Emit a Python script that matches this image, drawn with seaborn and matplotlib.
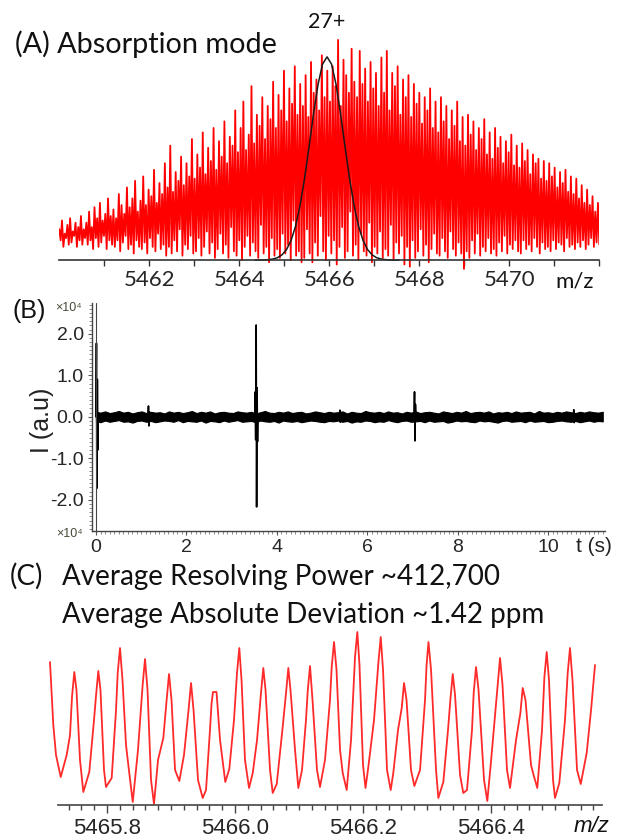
import matplotlib
matplotlib.use('Agg')
import matplotlib.pyplot as plt
import numpy as np
import seaborn as sns

# ---- (A) absorption-mode spectrum, 27+ charge state (% of tallest line) ----
spec_tops = [
    14, 18, 12, 16, 19, 13, 17, 15, 20, 14,
    17, 22, 15, 24, 19, 26, 18, 21, 28, 20,
    23, 19, 30, 25, 21, 33, 24, 28, 36, 22,
    27, 38, 25, 32, 29, 41, 26, 35, 30, 44,
    33, 52, 31, 40, 36, 47, 34, 44, 38, 55,
    37, 48, 42, 58, 39, 51, 45, 60, 41, 54,
    47, 63, 44, 56, 52, 68, 49, 60, 72, 50,
    57, 79, 53, 66, 61, 74, 55, 70, 64, 81,
    60, 75, 68, 86, 63, 78, 71, 88, 66, 80,
    70, 84, 65, 90, 76, 82, 68, 93, 74, 86,
    72, 88, 79, 100, 70, 91, 84, 76, 96, 81,
    74, 95, 80, 87, 72, 90, 78, 85, 70, 92,
    76, 95, 68, 85, 79, 88, 66, 82, 74, 84,
    65, 80, 71, 76, 62, 74, 68, 78, 60, 72,
    58, 74, 63, 70, 55, 68, 61, 72, 54, 65,
    52, 66, 57, 63, 50, 60, 55, 64, 48, 58,
    46, 60, 51, 56, 44, 54, 49, 57, 43, 52,
    42, 53, 45, 50, 39, 48, 44, 46, 37, 45,
    36, 44, 38, 42, 33, 40, 35, 41, 31, 38,
    30, 37, 28, 34, 26, 32, 25, 29, 22, 26,
]
spec_bottoms = [
    9, 6, 10, 7, 8, 11, 6, 9, 7, 10,
    7, 9, 5, 10, 6, 8, 11, 5, 9, 7,
    6, 9, 4, 8, 11, 5, 7, 3, 9, 6,
    5, 8, 3, 10, 6, 4, 12, 5, 7, 2,
    6, 3, 9, 4, 14, 2, 7, 5, 11, 3,
    4, 10, 2, 6, 13, 3, 8, 1, 5, 12,
    3, 7, 1, 15, 4, 2, 9, 0, 6, 11,
    2, 8, 4, 1, 16, 3, 6, -1, 10, 2,
    5, 1, 12, 3, 7, 0, 18, 2, 4, -1,
    1, 14, 3, -1, 8, 2, 20, 4, 0, 11,
    3, 9, -2, 6, 15, 1, 4, 22, 2, 7,
    0, 12, 4, 2, 17, -1, 6, 3, 13, 1,
    5, 2, 16, 0, 8, 3, 11, -2, 6, -3,
    9, 1, 4, 14, 2, 7, -1, 5, 12, 3,
    2, 10, 4, 1, 13, 5, 2, 8, 3, -4,
    4, 1, 9, 3, 12, 2, 6, 4, 10, 3,
    5, 2, 8, 4, 11, 3, 7, 5, 9, 4,
    3, 9, 5, 7, 4, 10, 6, 3, 8, 5,
    6, 4, 9, 5, 8, 7, 4, 10, 6, 7,
    5, 8, 6, 9, 5, 7, 10, 6, 8, 7,
]
fit_mz = [
    5464.35, 5464.45, 5464.55, 5464.65, 5464.75, 5464.85, 5464.95, 5465.05,
    5465.15, 5465.25, 5465.35, 5465.45, 5465.55, 5465.65, 5465.75, 5465.85,
    5465.95, 5466.05, 5466.15, 5466.25, 5466.35, 5466.45, 5466.55, 5466.65,
    5466.75, 5466.85, 5466.95, 5467.05, 5467.15, 5467.25, 5467.35, 5467.45,
    5467.55,
]
fit_int = [
    0.0, 0.0, 0.1, 0.2, 0.5, 1.1, 2.4, 4.8, 8.9, 15.4, 24.8, 37.0, 51.5,
    66.4, 79.8, 89.0, 92.3, 89.0, 79.8, 66.4, 51.5, 37.0, 24.8, 15.4, 8.9,
    4.8, 2.4, 1.1, 0.5, 0.2, 0.1, 0.0, 0.0,
]
a_ticks = [5462, 5464, 5466, 5468, 5470]

# ---- (B) transient, x10^4 a.u. ----
noise_hi = [
    0.12, 0.10, 0.13, 0.09, 0.11, 0.14, 0.10, 0.12, 0.08, 0.11,
    0.13, 0.09, 0.12, 0.10, 0.11, 0.08, 0.13, 0.10, 0.12, 0.09,
    0.11, 0.14, 0.09, 0.12, 0.10, 0.13, 0.08, 0.11, 0.12, 0.10,
    0.09, 0.13, 0.11, 0.10, 0.12, 0.08, 0.11, 0.14, 0.10, 0.09,
    0.12, 0.10, 0.13, 0.09, 0.11, 0.12, 0.08, 0.10, 0.13, 0.11,
    0.09, 0.12, 0.10, 0.11, 0.13, 0.08, 0.12, 0.10, 0.09, 0.14,
    0.11, 0.10, 0.12, 0.09, 0.13, 0.10, 0.11, 0.08, 0.12, 0.10,
    0.13, 0.09, 0.11, 0.12, 0.10, 0.08, 0.13, 0.11, 0.09, 0.12,
    0.10, 0.14, 0.09, 0.11, 0.12, 0.10, 0.13, 0.08, 0.11, 0.10,
    0.12, 0.09, 0.13, 0.10, 0.11, 0.12, 0.08, 0.14, 0.10, 0.11,
    0.09, 0.12, 0.10, 0.13, 0.11, 0.09, 0.12, 0.10, 0.13, 0.11,
    0.10, 0.12,
]
noise_lo = [
    -0.11, -0.13, -0.09, -0.12, -0.10, -0.08, -0.12, -0.11, -0.14, -0.10,
    -0.09, -0.12, -0.10, -0.13, -0.11, -0.09, -0.10, -0.12, -0.08, -0.13,
    -0.10, -0.11, -0.12, -0.09, -0.14, -0.10, -0.11, -0.13, -0.09, -0.12,
    -0.10, -0.08, -0.12, -0.11, -0.10, -0.13, -0.09, -0.11, -0.12, -0.10,
    -0.14, -0.09, -0.11, -0.12, -0.10, -0.13, -0.11, -0.09, -0.10, -0.12,
    -0.13, -0.10, -0.11, -0.09, -0.12, -0.10, -0.14, -0.11, -0.12, -0.09,
    -0.10, -0.13, -0.11, -0.12, -0.08, -0.11, -0.13, -0.10, -0.09, -0.12,
    -0.11, -0.10, -0.13, -0.09, -0.12, -0.11, -0.10, -0.14, -0.12, -0.09,
    -0.11, -0.10, -0.12, -0.13, -0.09, -0.11, -0.10, -0.12, -0.14, -0.10,
    -0.09, -0.12, -0.11, -0.10, -0.13, -0.09, -0.12, -0.11, -0.10, -0.13,
    -0.12, -0.10, -0.09, -0.11, -0.12, -0.10, -0.13, -0.11, -0.09, -0.12,
    -0.10, -0.11,
]
spike_t = [
    [0.00, 0.01, 0.02, 0.03, 0.04, 0.05],
    [1.15, 1.16, 1.17, 1.18, 1.19],
    [3.51, 3.52, 3.53, 3.54, 3.55, 3.56, 3.57, 3.58],
    [5.38, 5.39, 5.40, 5.41],
    [7.03, 7.04, 7.05, 7.06, 7.07],
    [10.55, 10.56, 10.57, 10.58],
]
spike_v = [
    [0.0, 1.77, -1.72, 0.9, -0.8, 0.0],
    [0.0, 0.26, -0.22, 0.12, 0.0],
    [0.0, 0.6, -0.55, 2.21, -2.17, 0.7, -0.6, 0.0],
    [0.0, 0.16, -0.13, 0.0],
    [0.0, 0.60, -0.58, 0.3, 0.0],
    [0.0, 0.17, -0.14, 0.0],
]
b_xticks = [0, 2, 4, 6, 8, 10]
b_yticks = [2.0, 1.0, 0.0, -1.0, -2.0]

# ---- (C) zoom on 27+ isotopic lines ----
mz_c = [
    5465.7109, 5465.7161, 5465.7203, 5465.7277, 5465.7370, 5465.7422, 5465.7453,
    5465.7489, 5465.7523, 5465.7578, 5465.7630, 5465.7723, 5465.7797, 5465.7828,
    5465.7864, 5465.7898, 5465.7953, 5465.7984, 5465.8073, 5465.8141, 5465.8167,
    5465.8203, 5465.8242, 5465.8297, 5465.8333, 5465.8402, 5465.8484, 5465.8558,
    5465.8594, 5465.8633, 5465.8688, 5465.8734, 5465.8797, 5465.8880, 5465.8933,
    5465.8969, 5465.9008, 5465.9063, 5465.9130, 5465.9203, 5465.9277, 5465.9313,
    5465.9352, 5465.9422, 5465.9495, 5465.9547, 5465.9609, 5465.9634, 5465.9656,
    5465.9711, 5465.9766, 5465.9848, 5465.9911, 5465.9984, 5466.0031, 5466.0067,
    5466.0102, 5466.0156, 5466.0219, 5466.0277, 5466.0344, 5466.0406, 5466.0442,
    5466.0477, 5466.0547, 5466.0589, 5466.0652, 5466.0745, 5466.0797, 5466.0833,
    5466.0867, 5466.0938, 5466.0989, 5466.1047, 5466.1109, 5466.1136, 5466.1172,
    5466.1211, 5466.1281, 5466.1328, 5466.1406, 5466.1484, 5466.1511, 5466.1547,
    5466.1586, 5466.1641, 5466.1683, 5466.1745, 5466.1813, 5466.1875, 5466.1911,
    5466.1945, 5466.2000, 5466.2039, 5466.2083, 5466.2172, 5466.2241, 5466.2277,
    5466.2313, 5466.2375, 5466.2433, 5466.2473, 5466.2547, 5466.2605, 5466.2641,
    5466.2680, 5466.2750, 5466.2802, 5466.2891, 5466.2969, 5466.2993, 5466.3023,
    5466.3063, 5466.3141, 5466.3177, 5466.3255, 5466.3328, 5466.3366, 5466.3402,
    5466.3438, 5466.3516, 5466.3567, 5466.3625, 5466.3703, 5466.3730, 5466.3766,
    5466.3805, 5466.3891, 5466.3942, 5466.3995, 5466.4063, 5466.4105, 5466.4141,
    5466.4180, 5466.4250, 5466.4297, 5466.4391, 5466.4459, 5466.4495, 5466.4539,
    5466.4625, 5466.4661, 5466.4723, 5466.4797, 5466.4834, 5466.4870, 5466.4906,
    5466.4969, 5466.5000, 5466.5067, 5466.5156, 5466.5198, 5466.5234, 5466.5273,
    5466.5344, 5466.5402, 5466.5495, 5466.5563, 5466.5625,
]
int_c = [
    143, 80, 50, 28, 50, 70, 108,
    133, 115, 45, 13, 33, 85, 109,
    134, 115, 35, 18, 27, 95, 132,
    157, 125, 60, 40, 3, 55, 121,
    146, 115, 25, 1, 45, 67, 106,
    131, 105, 35, 24, 50, 97, 122,
    95, 25, 7, 15, 75, 102, 113,
    113, 65, 23, 36, 85, 132, 157,
    125, 45, 17, 32, 65, 112, 137,
    115, 35, 12, 21, 78, 112, 137,
    115, 55, 17, 35, 85, 114, 139,
    105, 35, 18, 45, 105, 138, 163,
    135, 55, 32, 15, 65, 148, 173,
    140, 40, 17, 38, 85, 143, 168,
    135, 35, 15, 32, 75, 97, 122,
    105, 35, 19, 35, 105, 140, 163,
    135, 35, 7, 23, 75, 106, 131,
    110, 30, 12, 15, 75, 113, 138,
    115, 25, 4, 40, 90, 122, 147,
    120, 35, 17, 65, 92, 117, 105,
    40, 31, 17, 75, 128, 153, 125,
    25, 7, 22, 85, 132, 157, 125,
    35, 21, 52, 95, 140,
]
c_ticks = [5465.8, 5466.0, 5466.2, 5466.4]

sns.set_theme(style='white')
plt.rcParams['font.family'] = ['Lato', 'DejaVu Sans']
ARIAL = ['Liberation Sans', 'DejaVu Sans']

W, H = 619, 840
fig = plt.figure(figsize=(W / 100, H / 100), dpi=100)


def px_axes(left, top, right, bottom):
    return fig.add_axes([left / W, 1 - bottom / H, (right - left) / W, (bottom - top) / H])


# ---------------- panel A ----------------
ax = px_axes(59.3, 30, 599.3, 270)
mz_a = np.linspace(5460, 5472, 2 * len(spec_tops))
int_a = np.column_stack([spec_tops, spec_bottoms]).ravel()
sns.lineplot(x=mz_a, y=int_a, ax=ax, color='#ff0000', lw=1.3,
             estimator=None, sort=False)
sns.lineplot(x=fit_mz, y=fit_int, ax=ax, color='#1a1a1a', lw=1.1,
             estimator=None, sort=False)
ax.set_xlim(5460, 5472)
ax.set_ylim(-4.5, 104.5)
for s in ['top', 'right', 'left']:
    ax.spines[s].set_visible(False)
ax.spines['bottom'].set_position(('data', 0))
ax.spines['bottom'].set_color('#333333')
ax.spines['bottom'].set_linewidth(1.2)
ax.set_yticks([])
ax.set_xticks(a_ticks, labels=[str(t) for t in a_ticks], fontsize=16)
ax.set_xticks(np.arange(5461, 5473), minor=True)
ax.tick_params(axis='x', which='both', direction='out', length=4, width=1,
               color='#333333', pad=3, bottom=True)
ax.set_xlabel('')
ax.set_ylabel('')
ax.text(5465.95, 108, '27+', ha='center', va='center', fontsize=15.5,
        color='#111111', clip_on=False)
ax.text(5471.45, -9.5, 'm/z', ha='center', va='center', fontsize=16,
        color='#111111', clip_on=False)
fig.text(15 / W, 1 - 53 / H, '(A) Absorption mode', fontsize=20.8,
         color='#111111', va='baseline', ha='left')

# ---------------- panel B ----------------
ax = px_axes(92, 303, 605, 531)
t_noise = np.linspace(0, 11.2, len(noise_hi))
ax.fill_between(t_noise, noise_lo, noise_hi, color='black', lw=0.8)
for ts, vs in zip(spike_t, spike_v):
    sns.lineplot(x=ts, y=vs, ax=ax, color='black', lw=1.2,
                 estimator=None, sort=False)
ax.axvline(0, color='#444444', lw=0.8)
ax.set_xlim(-0.088, 11.25)
ax.set_ylim(-2.75, 2.74)
for s in ['top', 'right']:
    ax.spines[s].set_visible(False)
for s in ['left', 'bottom']:
    ax.spines[s].set_color('#444444')
    ax.spines[s].set_linewidth(1.0)
ax.set_xticks(b_xticks, labels=[str(t) for t in b_xticks], fontsize=14,
              fontfamily=ARIAL)
ax.set_yticks(b_yticks, labels=['%.1f' % v for v in b_yticks], fontsize=14,
              fontfamily=ARIAL)
ax.set_xticks(np.arange(0, 11.21, 0.1), minor=True)
ax.set_yticks(np.arange(-2.7, 2.71, 0.1), minor=True)
ax.tick_params(which='major', direction='out', length=3, width=0.8,
               color='#555555', pad=3, left=True, bottom=True)
ax.tick_params(which='minor', direction='out', length=2, width=0.6,
               color='#777777', left=True, bottom=True)
ax.set_xlabel('')
ax.set_ylabel('')
fig.text(594 / W, 1 - 547 / H, 't (s)', fontsize=15, family=ARIAL,
         ha='center', va='center', color='#222222')
fig.text(42 / W, 1 - 420 / H, 'I (a.u)', fontsize=18, family=ARIAL,
         rotation=90, ha='center', va='center', color='#222222')
fig.text(29 / W, 1 - 311 / H, '(B)', fontsize=18, family=ARIAL,
         ha='center', va='center', color='#111111')
fig.text(68 / W, 1 - 308 / H, '×10⁴', fontsize=9, family=ARIAL,
         ha='center', va='center', color='#4a4a3a')
fig.text(69 / W, 1 - 534 / H, '×10⁴', fontsize=9, family=ARIAL,
         ha='center', va='center', color='#4a4a3a')

# ---------------- panel C ----------------
ax = px_axes(48, 625, 605, 805)
sns.lineplot(x=mz_c, y=int_c, ax=ax, color='#ff2a2a', lw=1.3,
             estimator=None, sort=False)
ax.set_xlim(5465.7078, 5466.5781)
ax.set_ylim(0, 180)
for s in ['top', 'right', 'left']:
    ax.spines[s].set_visible(False)
ax.spines['bottom'].set_bounds(5465.723, 5466.573)
ax.spines['bottom'].set_color('#444444')
ax.spines['bottom'].set_linewidth(1.2)
ax.set_yticks([])
ax.set_xticks(c_ticks, labels=['%.1f' % t for t in c_ticks], fontsize=16,
              fontfamily=ARIAL)
ax.set_xticks(np.arange(5465.74, 5466.561, 0.02), minor=True)
ax.tick_params(axis='x', which='major', direction='out', length=6, width=1,
               color='#444444', pad=3, bottom=True)
ax.tick_params(axis='x', which='minor', direction='out', length=3.5, width=1,
               color='#444444', bottom=True)
ax.set_xlabel('')
ax.set_ylabel('')
fig.text(592 / W, 1 - 826 / H, 'm/z', fontsize=16, family=ARIAL,
         style='italic', ha='center', va='center', color='#111111')
fig.text(10 / W, 1 - 585 / H, '(C)', fontsize=20, va='baseline',
         ha='left', color='#111111')
fig.text(62 / W, 1 - 585 / H, 'Average Resolving Power ~412,700',
         fontsize=20, va='baseline', ha='left', color='#111111')
fig.text(62 / W, 1 - 623 / H, 'Average Absolute Deviation ~1.42 ppm',
         fontsize=20, va='baseline', ha='left', color='#111111')

fig.savefig('out.png', dpi=100)
